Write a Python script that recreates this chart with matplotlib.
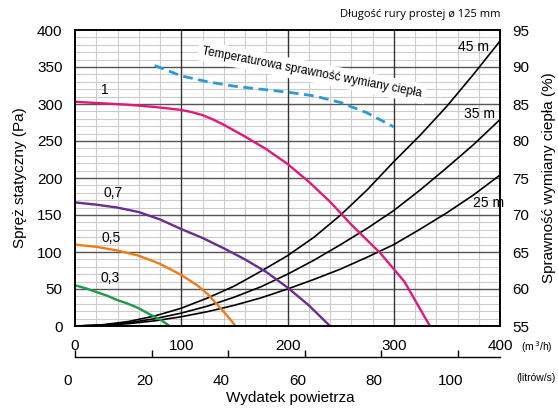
import matplotlib
matplotlib.use("Agg")
import matplotlib.pyplot as plt
from matplotlib.transforms import ScaledTranslation

plt.rcParams['font.family'] = ['Liberation Sans', 'DejaVu Sans']

# fan curves (m3/h, Pa)
q_1 = [0, 25, 50, 75, 100, 110, 120, 130, 140, 150, 160, 180, 200, 220, 240, 260, 287, 310, 334]
p_1 = [303, 301, 299, 296, 292, 289, 285, 279, 272, 264, 256, 239, 219, 195, 168, 137, 99, 60, 0]

q_07 = [0, 20, 40, 60, 80, 100, 120, 140, 160, 180, 200, 220, 240]
p_07 = [167, 164, 160, 154, 144, 131, 119, 105, 90, 73, 52, 28, 0]

q_05 = [0, 20, 40, 60, 80, 100, 115, 125, 137, 145, 151]
p_05 = [110, 107, 102, 95, 84, 69, 55, 43, 24, 11, 0]

q_03 = [0, 10, 20, 30, 40, 50, 60, 70, 80, 89]
p_03 = [55, 51, 46, 41, 35, 30, 24, 16, 9, 0]

# system curves
q_sys = [0, 25, 50, 75, 100, 125, 150, 175, 200, 225, 250, 275, 300, 325, 350, 375, 400]
p_45 = [0, 1.5, 6, 13.5, 24, 38, 54, 74, 95, 120, 150, 184, 222, 258, 297, 340, 385]
p_35 = [0, 1.1, 4.3, 9.8, 17.4, 27, 39, 53, 70, 89, 110, 132, 156, 184, 214, 245, 279]
p_25 = [0, 0.8, 3.1, 7, 12.5, 19.5, 28, 38, 50, 63, 77, 93, 110, 131, 153, 177, 204]

# heat exchange efficiency (%)
q_eff = [75, 100, 125, 150, 175, 200, 225, 250, 275, 300]
eff = [90.2, 88.8, 88.0, 87.4, 87.0, 86.6, 86.1, 85.2, 83.8, 81.9]

pa_ticks = [0, 50, 100, 150, 200, 250, 300, 350, 400]
eff_ticks = [55, 60, 65, 70, 75, 80, 85, 90, 95]
flow_ticks = [0, 100, 200, 300, 400]
ls_ticks = [0, 20, 40, 60, 80, 100]

fig = plt.figure(figsize=(5.58, 4.09), dpi=100)
ax = fig.add_axes([75/558, 83/409, 425/558, 296/409])

ax.set_xlim(0, 400)
ax.set_ylim(0, 400)

# grid
for y in range(10, 400, 10):
    if y % 50 == 0:
        ax.axhline(y, color='#555555', lw=1.0, zorder=1)
    else:
        ax.axhline(y, color='#cccccc', lw=0.8, zorder=0)
for x in range(20, 400, 20):
    if x % 100 == 0:
        ax.axvline(x, color='#333333', lw=1.0, zorder=1)
    else:
        ax.axvline(x, color='#cccccc', lw=0.8, zorder=0)

ax.plot(q_sys, p_45, color='black', lw=1.2, zorder=3)
ax.plot(q_sys, p_35, color='black', lw=1.2, zorder=3)
ax.plot(q_sys, p_25, color='black', lw=1.2, zorder=3)

ax.plot(q_1, p_1, color='#e2187c', lw=1.7, zorder=4)
ax.plot(q_07, p_07, color='#6b2d90', lw=1.7, zorder=4)
ax.plot(q_05, p_05, color='#ef7b1b', lw=1.7, zorder=4)
ax.plot(q_03, p_03, color='#1e9a4c', lw=1.7, zorder=4)

ax.text(28, 319, '1', fontsize=10, ha='center', va='center')
ax.text(36, 180, '0,7', fontsize=10, ha='center', va='center')
ax.text(34, 119, '0,5', fontsize=10, ha='center', va='center')
ax.text(33, 65, '0,3', fontsize=10, ha='center', va='center')
ax.text(375, 377, '45 m', fontsize=10, ha='center', va='center')
ax.text(381, 286, '35 m', fontsize=10, ha='center', va='center')
ax.text(389, 166, '25 m', fontsize=10, ha='center', va='center')

ax.text(223, 343, 'Temperaturowa sprawność wymiany ciepła', fontsize=8.5,
        ha='center', va='center', rotation=-11, zorder=2,
        bbox=dict(fc='white', ec='none', pad=3))

ax.set_yticks(pa_ticks)
ax.set_xticks(flow_ticks)
ax.tick_params(axis='both', length=0, labelsize=11)
ax.tick_params(axis='y', pad=9)
ax.tick_params(axis='x', pad=9)
for s in ax.spines.values():
    s.set_color('black')
    s.set_linewidth(1.2)
    s.set_zorder(5)

ax2 = ax.twinx()
ax2.set_ylim(55, 95)
ax2.set_yticks(eff_ticks)
ax2.tick_params(axis='y', length=0, labelsize=11, pad=9)
ax2.plot(q_eff, eff, color='#2b9bd7', lw=2.0, dashes=(3.5, 2), zorder=3)
for s in ax2.spines.values():
    s.set_linewidth(1.2)

fig.text(20/558, 1 - 178/409, 'Spręż statyczny (Pa)', rotation=90,
         fontsize=11, ha='center', va='center')
fig.text(549/558, 1 - 178/409, 'Sprawność wymiany ciepła (%)', rotation=90,
         fontsize=11, ha='center', va='center')

# second flow axis in l/s
ax3 = fig.add_axes([75/558, 52/409, 425/558, 0.001])
ax3.set_xlim(0, 400/3.6)
ax3.set_yticks([])
for k in ['top', 'left', 'right']:
    ax3.spines[k].set_visible(False)
ax3.spines['bottom'].set_linewidth(1.0)
ax3.patch.set_visible(False)
ax3.set_xticks(ls_ticks)
ax3.tick_params(axis='x', direction='in', length=5, width=1.0, labelsize=11, pad=12)
off = ScaledTranslation(-7/100, 0, fig.dpi_scale_trans)
for lab in ax3.get_xticklabels():
    lab.set_transform(lab.get_transform() + off)

fig.text(521/558, 1 - 347/409, '(m$^{\\,3}$/h)', fontsize=7.5, ha='left', va='center')
fig.text(556/558, 1 - 378/409, '(litrów/s)', fontsize=7.5, ha='right', va='center')
fig.text(290/558, 1 - 398/409, 'Wydatek powietrza', fontsize=11, ha='center', va='center')
fig.text(500/558, 1 - 15/409, 'Długość rury prostej ø 125 mm', fontsize=8,
         ha='right', va='center', family=['Open Sans', 'DejaVu Sans'])

fig.savefig('out.png', dpi=100)
